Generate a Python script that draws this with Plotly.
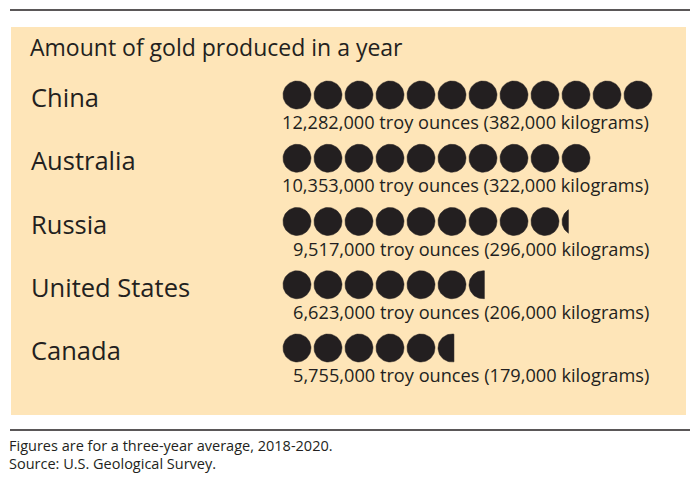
import math
import plotly.graph_objects as go

# ---- data ----
countries = ["China", "Australia", "Russia", "United States", "Canada"]
troy_ounces = [12282000, 10353000, 9517000, 6623000, 5755000]
kilograms = [382000, 322000, 296000, 206000, 179000]
# number of gold-coin icons as drawn (1 icon ~ 1,000,000 troy ounces)
icon_counts = [12, 10, 9.23, 6.55, 5.57]

title_text = "Amount of gold produced in a year"
notes = ["Figures are for a three-year average, 2018-2020.", "Source: U.S. Geological Survey."]

# ---- styling / geometry ----
W, H = 700, 493
BG = "#FEE5B8"
INK = "#231F20"
FONT = "'Open Sans', Lato, sans-serif"
PX_PER_ICON = 31.0          # horizontal pitch of icons in px
ICON_X0_PX = 281.5          # pixel of x=0
ROW_PX = 63.25              # vertical row pitch px
ROW0_PX = 95.0              # pixel of first row centre
DIAM_PX = 28.0

xr = [-ICON_X0_PX / PX_PER_ICON, (W - ICON_X0_PX) / PX_PER_ICON]
yr = [(H - ROW0_PX) / ROW_PX, -ROW0_PX / ROW_PX]
R = DIAM_PX / 2 / PX_PER_ICON
Ry = DIAM_PX / 2 / ROW_PX

fig = go.Figure()

for r, cnt in enumerate(icon_counts):
    xs, ys = [], []
    n_full = int(math.floor(cnt))
    frac = cnt - n_full
    for i in range(n_full):
        cx = i + 0.5
        for k in range(61):
            t = 2 * math.pi * k / 60
            xs.append(cx + R * math.cos(t))
            ys.append(r + Ry * math.sin(t))
        xs.append(None); ys.append(None)
    if frac > 0.01:
        cx = n_full + 0.5
        xc = cx - R + frac * 2 * R
        t0 = math.acos(max(-1, min(1, (xc - cx) / R)))
        steps = 40
        for k in range(steps + 1):
            t = t0 + (2 * math.pi - 2 * t0) * k / steps
            xs.append(cx + R * math.cos(t))
            ys.append(r + Ry * math.sin(t))
        xs.append(xs[-steps - 1]); ys.append(ys[-steps - 1])
    fig.add_trace(go.Scatter(x=xs, y=ys, mode="lines", fill="toself",
                             fillcolor=INK, line=dict(color=INK, width=0.5),
                             hoverinfo="skip", showlegend=False))

annotations = []
for r, (c, oz, kg) in enumerate(zip(countries, troy_ounces, kilograms)):
    annotations.append(dict(text=c, xref="paper", x=29 / W, yref="y", y=r, yshift=-2,
                            xanchor="left", yanchor="middle", showarrow=False,
                            font=dict(family=FONT, size=25.5, color=INK)))
    annotations.append(dict(text=f"{oz:,} troy ounces ({kg:,} kilograms)",
                            xref="paper", x=651 / W, yref="y", y=r, yshift=-27,
                            xanchor="right", yanchor="middle", showarrow=False,
                            font=dict(family=FONT, size=18.2, color=INK)))

annotations.append(dict(text=title_text, xref="paper", x=28 / W, yref="paper", y=1 - 47 / H,
                        xanchor="left", yanchor="middle", showarrow=False,
                        font=dict(family=FONT, size=23, color=INK)))
for j, n in enumerate(notes):
    annotations.append(dict(text=n, xref="paper", x=7 / W, yref="paper", y=1 - (445 + 18.5 * j) / H,
                            xanchor="left", yanchor="middle", showarrow=False,
                            font=dict(family=FONT, size=14.5, color=INK)))

shapes = [
    dict(type="rect", xref="paper", yref="paper", x0=11 / W, x1=686 / W,
         y0=1 - 415 / H, y1=1 - 27 / H, fillcolor=BG, line=dict(width=0), layer="below"),
    dict(type="line", xref="paper", yref="paper", x0=10 / W, x1=690 / W,
         y0=1 - 10 / H, y1=1 - 10 / H, line=dict(color=INK, width=1.5)),
    dict(type="line", xref="paper", yref="paper", x0=10 / W, x1=690 / W,
         y0=1 - 430 / H, y1=1 - 430 / H, line=dict(color=INK, width=1.5)),
]

fig.update_layout(
    width=W, height=H, margin=dict(l=0, r=0, t=0, b=0),
    paper_bgcolor="white", plot_bgcolor="rgba(0,0,0,0)",
    xaxis=dict(range=xr, visible=False, fixedrange=True),
    yaxis=dict(range=yr, visible=False, fixedrange=True),
    annotations=annotations, shapes=shapes, showlegend=False,
)

fig.write_html("out.html")
